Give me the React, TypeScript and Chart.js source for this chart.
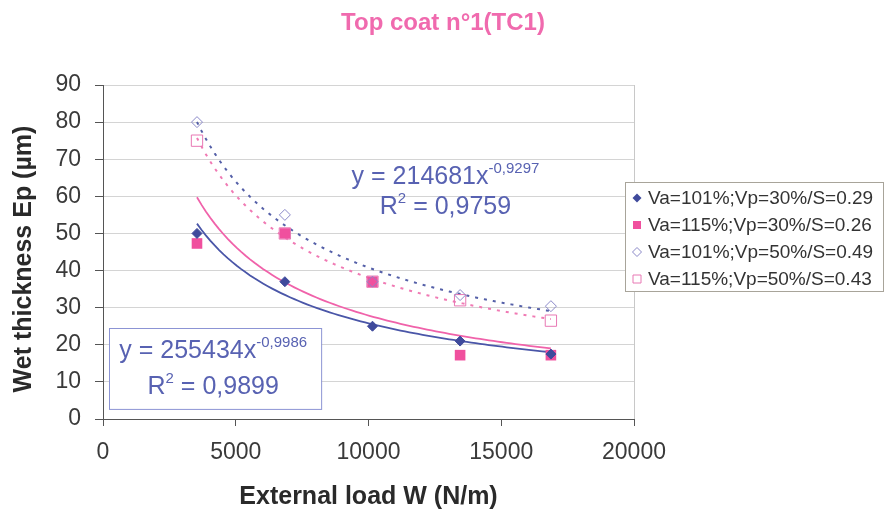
import React, { useEffect, useRef } from "react";
import { Chart, registerables } from "chart.js";

Chart.register(...registerables);

// ---- data ----
const loadX = [3540, 6850, 10150, 13450, 16870];
const va101vp30 = [50, 37, 25, 21, 17.5];
const va115vp30 = [47.3, 50, 37, 17.2, 17.2];
const va101vp50 = [80, 55, 37, 33.4, 30.4];
const va115vp50 = [75, 50, 37, 32, 26.5];
const seriesLabels = [
  "Va=101%;Vp=30%/S=0.29",
  "Va=115%;Vp=30%/S=0.26",
  "Va=101%;Vp=50%/S=0.49",
  "Va=115%;Vp=50%/S=0.43",
];
const xTickStep = 5000;
const xMin = 0;
const xMax = 20000;
const yTickStep = 10;
const yMin = 0;
const yMax = 90;
const titleText = "Top coat n°1(TC1)";
const xTitle = "External load W (N/m)";
const yTitle = "Wet thickness Ep (µm)";
const eqTop = { coef: "y = 214681x", exp: "-0,9297", r2: "0,9759" };
const eqBottom = { coef: "y = 255434x", exp: "-0,9986", r2: "0,9899" };

const FONT = '"Liberation Sans", Arial, sans-serif';
const BLUE = "#3f4a9c";
const PINK = "#f0509e";
const OPEN_BLUE = "#8a88c8";
const OPEN_PINK = "#e878b4";
const EQ_COLOR = "#5862b2";

function powerFit(xs: number[], ys: number[]) {
  const lx = xs.map(Math.log);
  const ly = ys.map(Math.log);
  const n = xs.length;
  const mx = lx.reduce((a, b) => a + b, 0) / n;
  const my = ly.reduce((a, b) => a + b, 0) / n;
  let sxy = 0;
  let sxx = 0;
  for (let i = 0; i < n; i++) {
    sxy += (lx[i] - mx) * (ly[i] - my);
    sxx += (lx[i] - mx) * (lx[i] - mx);
  }
  const b = sxy / sxx;
  const a = Math.exp(my - b * mx);
  const lo = Math.min(...xs);
  const hi = Math.max(...xs);
  const pts: { x: number; y: number }[] = [];
  const N = 80;
  for (let i = 0; i <= N; i++) {
    const x = lo + ((hi - lo) * i) / N;
    pts.push({ x, y: a * Math.pow(x, b) });
  }
  return pts;
}

const toPts = (ys: number[]) => loadX.map((x, i) => ({ x, y: ys[i] }));

function drawEq(
  ctx: CanvasRenderingContext2D,
  cx: number,
  y1: number,
  y2: number,
  eq: { coef: string; exp: string; r2: string }
) {
  ctx.save();
  ctx.fillStyle = EQ_COLOR;
  ctx.textBaseline = "alphabetic";
  ctx.textAlign = "left";
  const big = `25px ${FONT}`;
  const small = `15px ${FONT}`;
  ctx.font = big;
  const w1 = ctx.measureText(eq.coef).width;
  ctx.font = small;
  const w1s = ctx.measureText(eq.exp).width;
  let x = cx - (w1 + w1s) / 2;
  ctx.font = big;
  ctx.fillText(eq.coef, x, y1);
  ctx.font = small;
  ctx.fillText(eq.exp, x + w1, y1 - 11);
  // R^2 line
  ctx.font = big;
  const wR = ctx.measureText("R").width;
  const rest = " = " + eq.r2;
  const wRest = ctx.measureText(rest).width;
  ctx.font = small;
  const w2 = ctx.measureText("2").width;
  x = cx - (wR + w2 + wRest) / 2;
  ctx.font = big;
  ctx.fillText("R", x, y2);
  ctx.font = small;
  ctx.fillText("2", x + wR, y2 - 11);
  ctx.font = big;
  ctx.fillText(rest, x + wR + w2, y2);
  ctx.restore();
}

function marker(
  ctx: CanvasRenderingContext2D,
  kind: number,
  x: number,
  y: number
) {
  ctx.save();
  ctx.beginPath();
  if (kind === 0 || kind === 2) {
    const r = 4.5;
    ctx.moveTo(x - r, y);
    ctx.lineTo(x, y - r);
    ctx.lineTo(x + r, y);
    ctx.lineTo(x, y + r);
    ctx.closePath();
  } else {
    const s = 4;
    ctx.rect(x - s, y - s, 2 * s, 2 * s);
  }
  if (kind === 0) {
    ctx.fillStyle = BLUE;
    ctx.fill();
  } else if (kind === 1) {
    ctx.fillStyle = PINK;
    ctx.fill();
  } else {
    ctx.strokeStyle = kind === 2 ? OPEN_BLUE : OPEN_PINK;
    ctx.lineWidth = 1;
    ctx.stroke();
  }
  ctx.restore();
}

const decorPlugin = {
  id: "decor",
  beforeDatasetsDraw(chart: any) {
    const { ctx, chartArea } = chart;
    ctx.save();
    ctx.strokeStyle = "#c8c8c8";
    ctx.lineWidth = 1;
    ctx.beginPath();
    ctx.moveTo(chartArea.right + 0.5, chartArea.top);
    ctx.lineTo(chartArea.right + 0.5, chartArea.bottom);
    ctx.stroke();
    ctx.restore();
  },
  afterDraw(chart: any) {
    const { ctx, chartArea, scales } = chart;
    const xs = scales.x;
    const ys = scales.y;
    ctx.save();
    // title
    ctx.fillStyle = "#f06aae";
    ctx.font = `bold 24px ${FONT}`;
    ctx.textAlign = "center";
    ctx.textBaseline = "middle";
    ctx.fillText(titleText, 443, 23);
    // axis titles
    ctx.fillStyle = "#2a2a2a";
    ctx.font = `bold 25px ${FONT}`;
    ctx.fillText(xTitle, (chartArea.left + chartArea.right) / 2, 497);
    ctx.save();
    ctx.translate(24, 259);
    ctx.rotate(-Math.PI / 2);
    ctx.fillText(yTitle, 0, 0);
    ctx.restore();

    // top equation (no border)
    const tcx = xs.getPixelForValue(12900);
    const ty = ys.getPixelForValue(63.3);
    drawEq(ctx, tcx, ty, ty + 30, eqTop);

    // bottom equation box
    const bx1 = xs.getPixelForValue(230);
    const bx2 = xs.getPixelForValue(8220);
    const by1 = ys.getPixelForValue(24.5);
    const by2 = ys.getPixelForValue(2.7);
    ctx.fillStyle = "#ffffff";
    ctx.fillRect(bx1, by1, bx2 - bx1, by2 - by1);
    ctx.strokeStyle = "#8c94d4";
    ctx.lineWidth = 1;
    ctx.strokeRect(Math.round(bx1) + 0.5, Math.round(by1) + 0.5, bx2 - bx1, by2 - by1);
    drawEq(ctx, (bx1 + bx2) / 2 - 2, by1 + 30, by1 + 66, eqBottom);

    // legend
    const lx = 625;
    const ly = 182;
    const lw = 258;
    const lh = 109;
    ctx.fillStyle = "#ffffff";
    ctx.fillRect(lx, ly, lw, lh);
    ctx.strokeStyle = "#a8a49a";
    ctx.lineWidth = 1;
    ctx.strokeRect(lx + 0.5, ly + 0.5, lw, lh);
    ctx.font = `19px ${FONT}`;
    ctx.textAlign = "left";
    ctx.textBaseline = "middle";
    seriesLabels.forEach((lab, i) => {
      const cy = ly + 16 + i * 27;
      marker(ctx, i, lx + 12, cy);
      ctx.fillStyle = "#333333";
      ctx.fillText(lab, lx + 23, cy + 1);
    });
    ctx.restore();
  },
};

export default function App() {
  const ref = useRef<HTMLCanvasElement | null>(null);
  useEffect(() => {
    document.body.style.margin = "0";
    const canvas = ref.current!;
    const chart = new Chart(canvas, {
      type: "scatter",
      data: {
        datasets: [
          {
            label: seriesLabels[0],
            data: toPts(va101vp30),
            pointStyle: "rectRot",
            pointRadius: 5,
            backgroundColor: BLUE,
            borderColor: BLUE,
            borderWidth: 1,
            showLine: false,
          },
          {
            label: seriesLabels[2],
            data: toPts(va101vp50),
            pointStyle: "rectRot",
            pointRadius: 5.5,
            backgroundColor: "rgba(0,0,0,0)",
            borderColor: OPEN_BLUE,
            borderWidth: 1,
            showLine: false,
          },
          {
            label: seriesLabels[3],
            data: toPts(va115vp50),
            pointStyle: "rect",
            pointRadius: 8,
            backgroundColor: "rgba(0,0,0,0)",
            borderColor: OPEN_PINK,
            borderWidth: 1,
            showLine: false,
          },
          {
            label: seriesLabels[1],
            data: toPts(va115vp30),
            pointStyle: "rect",
            pointRadius: 7.5,
            backgroundColor: PINK,
            borderColor: PINK,
            borderWidth: 0,
            showLine: false,
          },
          {
            label: "trend1",
            data: powerFit(loadX, va101vp30),
            showLine: true,
            pointRadius: 0,
            borderColor: "#4a56a8",
            borderWidth: 1.8,
            order: 1,
          } as any,
          {
            label: "trend2",
            data: powerFit(loadX, va115vp30),
            showLine: true,
            pointRadius: 0,
            borderColor: "#f062aa",
            borderWidth: 1.8,
            order: 1,
          } as any,
          {
            label: "trend3",
            data: powerFit(loadX, va101vp50),
            showLine: true,
            pointRadius: 0,
            borderColor: "#5560a8",
            borderWidth: 2,
            borderDash: [3, 6],
            order: 1,
          } as any,
          {
            label: "trend4",
            data: powerFit(loadX, va115vp50),
            showLine: true,
            pointRadius: 0,
            borderColor: "#f07ab4",
            borderWidth: 2,
            borderDash: [3, 6],
            order: 1,
          } as any,
        ],
      },
      options: {
        responsive: false,
        animation: false,
        layout: { padding: { top: 85, right: 250, left: 0, bottom: 0 } },
        plugins: {
          legend: { display: false },
          tooltip: { enabled: false },
          title: { display: false },
        },
        scales: {
          x: {
            type: "linear",
            min: xMin,
            max: xMax,
            afterFit: (s: any) => {
              s.height = 96;
            },
            ticks: {
              stepSize: xTickStep,
              color: "#3a3a3a",
              font: { family: FONT, size: 23 },
              padding: 13,
              maxRotation: 0,
              callback: (v: any) => String(v),
            },
            grid: {
              drawOnChartArea: false,
              drawTicks: true,
              tickLength: 7,
              tickColor: "#555555",
            },
            border: { color: "#555555", width: 1 },
          },
          y: {
            type: "linear",
            min: yMin,
            max: yMax,
            afterFit: (s: any) => {
              s.width = 103;
            },
            ticks: {
              stepSize: yTickStep,
              color: "#3a3a3a",
              font: { family: FONT, size: 23 },
              padding: 14,
              callback: (v: any) => String(v),
            },
            grid: {
              color: "#d4d4d4",
              lineWidth: 1,
              drawTicks: true,
              tickLength: 8,
              tickColor: "#555555",
            },
            border: { color: "#555555", width: 1 },
          },
        },
      },
      plugins: [decorPlugin],
    });
    return () => chart.destroy();
  }, []);
  return (
    <div style={{ width: 884, height: 515, background: "#ffffff" }}>
      <canvas ref={ref} width={884} height={515} />
    </div>
  );
}
